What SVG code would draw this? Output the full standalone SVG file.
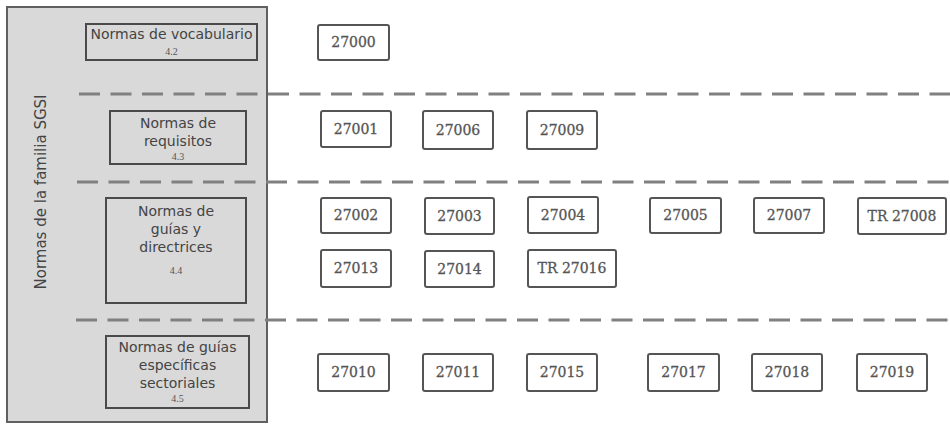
<svg xmlns="http://www.w3.org/2000/svg" width="950" height="425" viewBox="0 0 950 425">
<style>
.panel{fill:#d9d9d9;stroke:#606060;stroke-width:2}
.cat{fill:#d9d9d9;stroke:#4a4a4a;stroke-width:2}
.std{fill:#ffffff;stroke:#555555;stroke-width:2}
.sep{fill:none;stroke:#808080;stroke-width:3;stroke-dasharray:21 10.5}
.lt{font-family:"DejaVu Sans","Liberation Sans",Arial,sans-serif;font-size:14px;fill:#444444;text-anchor:middle}
.vt{font-family:"DejaVu Sans","Liberation Sans",Arial,sans-serif;font-size:15px;fill:#444444;text-anchor:middle}
.sn{font-family:"Liberation Serif","Times New Roman",serif;font-size:10px;fill:#555555;text-anchor:middle}
.nt{font-family:"DejaVu Serif","Liberation Serif",serif;font-size:14px;fill:#555555;stroke:#555555;stroke-width:0.3;text-anchor:middle}
</style>
<rect width="950" height="425" fill="#ffffff"/>
<g id="panel">
<rect class="panel" x="7" y="7" width="260" height="415"/>
<text class="vt" transform="translate(46,192) rotate(-90)">Normas de la familia SGSI</text>
</g>
<g id="separators">
<line class="sep" x1="79" y1="94" x2="950" y2="94"/>
<line class="sep" x1="77" y1="182" x2="950" y2="182"/>
<line class="sep" x1="76" y1="320" x2="950" y2="320"/>
</g>
<g id="cat-vocabulario">
<rect class="cat" x="86" y="24" width="171" height="36"/>
<text class="lt" x="171.5" y="39">Normas de vocabulario</text>
<text class="sn" x="171.5" y="55">4.2</text>
</g>
<g id="cat-requisitos">
<rect class="cat" x="110" y="111" width="136" height="53"/>
<text class="lt" x="178" y="128">Normas de</text>
<text class="lt" x="178" y="146">requisitos</text>
<text class="sn" x="178" y="160">4.3</text>
</g>
<g id="cat-guias">
<rect class="cat" x="106" y="198" width="140" height="105"/>
<text class="lt" x="176" y="216">Normas de</text>
<text class="lt" x="176" y="234">guías y</text>
<text class="lt" x="176" y="252">directrices</text>
<text class="sn" x="176" y="274">4.4</text>
</g>
<g id="cat-especificas">
<rect class="cat" x="106" y="336" width="143" height="72"/>
<text class="lt" x="177.5" y="352">Normas de guías</text>
<text class="lt" x="177.5" y="370">específicas</text>
<text class="lt" x="177.5" y="388">sectoriales</text>
<text class="sn" x="177.5" y="402">4.5</text>
</g>
<g id="n27000"><rect class="std" x="318" y="25" width="71" height="35" rx="2"/><text class="nt" x="353.5" y="47">27000</text></g>
<g id="n27001"><rect class="std" x="321" y="111" width="70" height="36" rx="2"/><text class="nt" x="356" y="134">27001</text></g>
<g id="n27006"><rect class="std" x="423" y="111" width="70" height="38" rx="2"/><text class="nt" x="458" y="135">27006</text></g>
<g id="n27009"><rect class="std" x="527" y="111" width="70" height="38" rx="2"/><text class="nt" x="562" y="135">27009</text></g>
<g id="n27002"><rect class="std" x="321" y="198" width="70" height="35" rx="2"/><text class="nt" x="356" y="220">27002</text></g>
<g id="n27003"><rect class="std" x="425" y="198" width="69" height="36" rx="2"/><text class="nt" x="459.5" y="221">27003</text></g>
<g id="n27004"><rect class="std" x="528" y="197" width="70" height="36" rx="2"/><text class="nt" x="563" y="220">27004</text></g>
<g id="n27005"><rect class="std" x="650" y="198" width="71" height="35" rx="2"/><text class="nt" x="685.5" y="220">27005</text></g>
<g id="n27007"><rect class="std" x="754" y="198" width="70" height="35" rx="2"/><text class="nt" x="789" y="220">27007</text></g>
<g id="nTR27008"><rect class="std" x="858" y="198" width="88" height="36" rx="2"/><text class="nt" x="902" y="221">TR 27008</text></g>
<g id="n27013"><rect class="std" x="321" y="250" width="70" height="37" rx="2"/><text class="nt" x="356" y="273">27013</text></g>
<g id="n27014"><rect class="std" x="425" y="251" width="69" height="36" rx="2"/><text class="nt" x="459.5" y="274">27014</text></g>
<g id="nTR27016"><rect class="std" x="528" y="250" width="88" height="37" rx="2"/><text class="nt" x="572" y="273">TR 27016</text></g>
<g id="n27010"><rect class="std" x="318" y="354" width="71" height="37" rx="2"/><text class="nt" x="353.5" y="377">27010</text></g>
<g id="n27011"><rect class="std" x="423" y="354" width="70" height="37" rx="2"/><text class="nt" x="458" y="377">27011</text></g>
<g id="n27015"><rect class="std" x="527" y="354" width="70" height="37" rx="2"/><text class="nt" x="562" y="377">27015</text></g>
<g id="n27017"><rect class="std" x="648" y="354" width="71" height="37" rx="2"/><text class="nt" x="683.5" y="377">27017</text></g>
<g id="n27018"><rect class="std" x="752" y="354" width="70" height="37" rx="2"/><text class="nt" x="787" y="377">27018</text></g>
<g id="n27019"><rect class="std" x="857" y="354" width="70" height="37" rx="2"/><text class="nt" x="892" y="377">27019</text></g>
</svg>
